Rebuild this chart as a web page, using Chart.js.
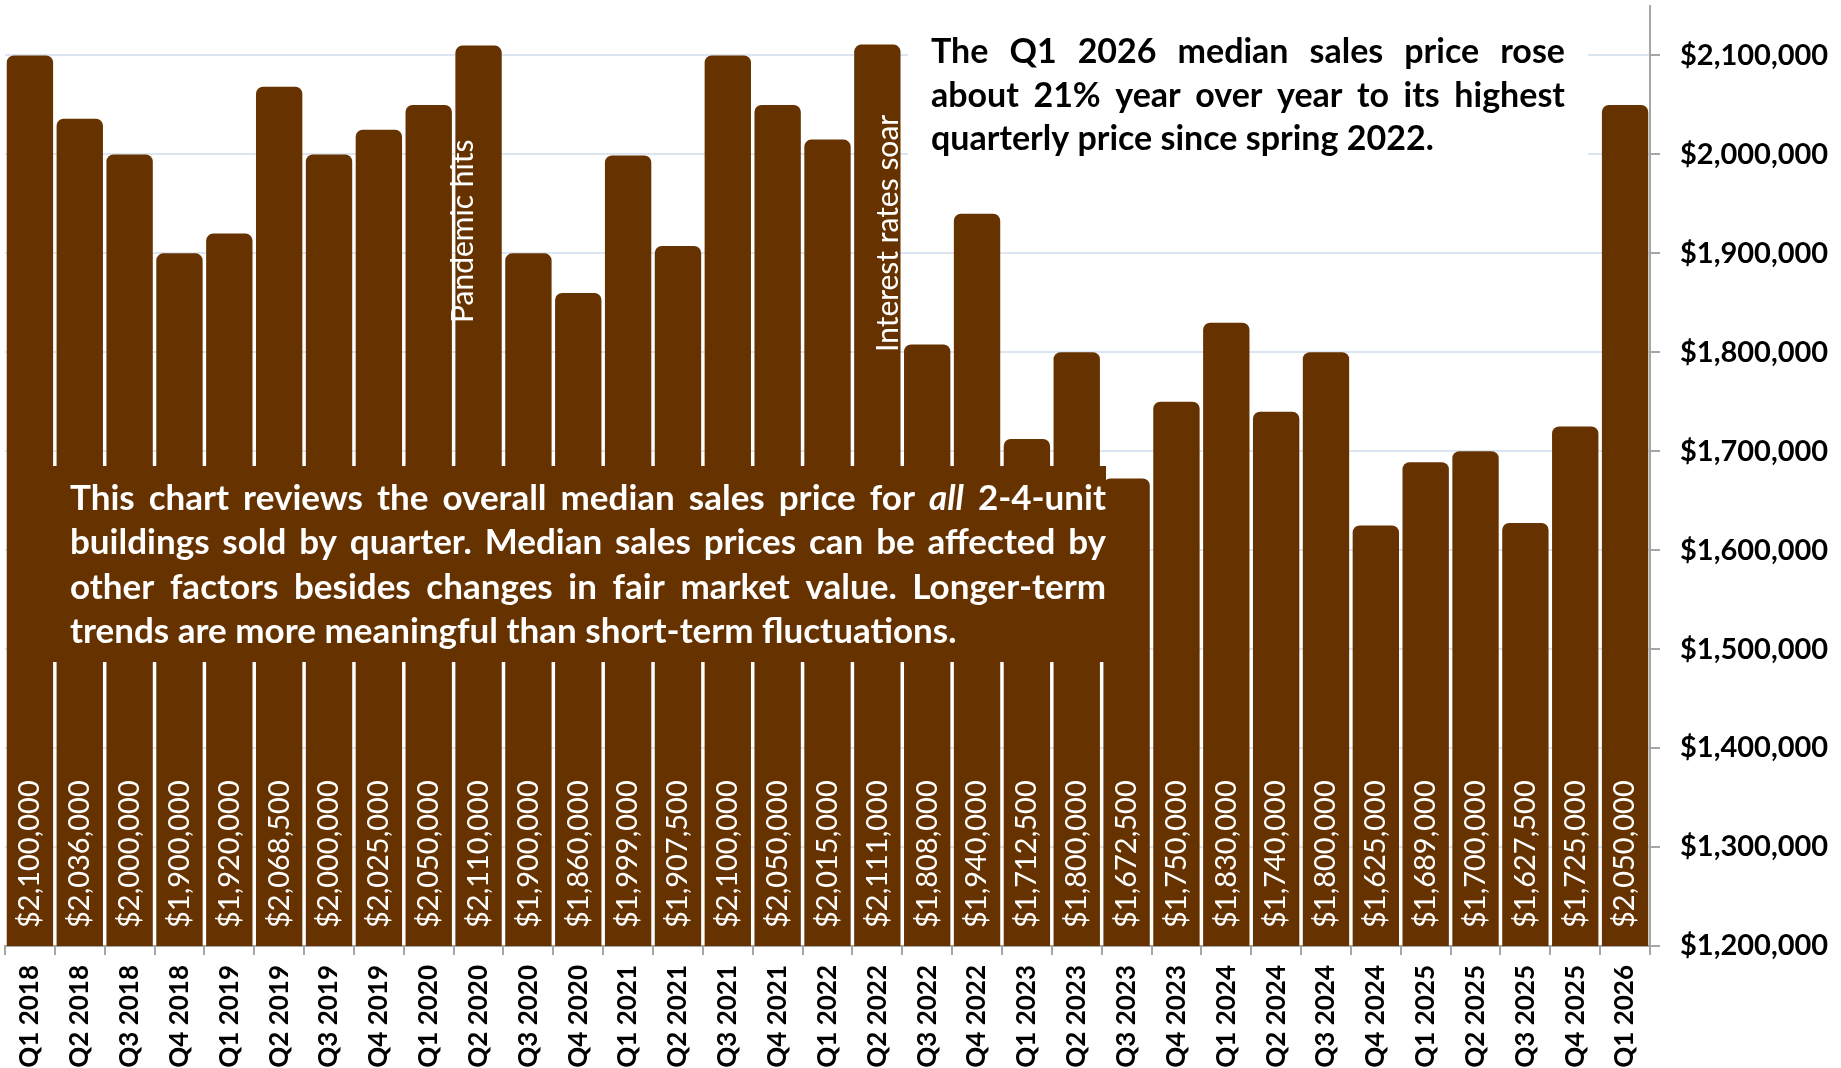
<!DOCTYPE html>
<html><head><meta charset="utf-8">
<script src="https://cdn.jsdelivr.net/npm/chart.js@4.4.1/dist/chart.umd.min.js"></script>
<style>html,body{margin:0;padding:0;background:#fff}canvas{display:block}</style>
</head><body>
<canvas id="c" width="1841" height="1068"></canvas>
<script>
const quarters = ['Q1 2018','Q2 2018','Q3 2018','Q4 2018','Q1 2019','Q2 2019','Q3 2019','Q4 2019','Q1 2020','Q2 2020','Q3 2020','Q4 2020','Q1 2021','Q2 2021','Q3 2021','Q4 2021','Q1 2022','Q2 2022','Q3 2022','Q4 2022','Q1 2023','Q2 2023','Q3 2023','Q4 2023','Q1 2024','Q2 2024','Q3 2024','Q4 2024','Q1 2025','Q2 2025','Q3 2025','Q4 2025','Q1 2026'];
const medianPrices = [2100000,2036000,2000000,1900000,1920000,2068500,2000000,2025000,2050000,2110000,1900000,1860000,1999000,1907500,2100000,2050000,2015000,2111000,1808000,1940000,1712500,1800000,1672500,1750000,1830000,1740000,1800000,1625000,1689000,1700000,1627500,1725000,2050000];
const yTickValues = [1200000,1300000,1400000,1500000,1600000,1700000,1800000,1900000,2000000,2100000];
const eventQuarters = ['Q2 2020','Q2 2022'];
const eventTexts = ['Pandemic hits','Interest rates soar'];
const noteTopLines = ['The Q1 2026 median sales price rose','about 21% year over year to its highest','quarterly price since spring 2022.'];
const noteBottomLines = ['This chart reviews the overall median sales price for _all_ 2-4-unit','buildings sold by quarter. Median sales prices can be affected by','other factors besides changes in fair market value. Longer-term','trends are more meaningful than short-term fluctuations.'];

const BROWN = '#663300';
const fmt = v => '$' + Number(v).toLocaleString('en-US');

function drawJustified(ctx, lines, x, w, y0, lh, size, color) {
  ctx.fillStyle = color;
  ctx.textBaseline = 'alphabetic';
  ctx.textAlign = 'left';
  lines.forEach((line, li) => {
    const words = line.split(' ');
    const fonts = words.map(wd => wd.startsWith('_') ? `italic bold ${size}px Lato` : `bold ${size}px Lato`);
    const texts = words.map(wd => wd.replace(/_/g, ''));
    const widths = texts.map((t, i) => { ctx.font = fonts[i]; return ctx.measureText(t).width; });
    const sum = widths.reduce((a, b) => a + b, 0);
    ctx.font = `bold ${size}px Lato`;
    const sp = ctx.measureText(' ').width;
    const last = li === lines.length - 1;
    let gap = last ? sp : (w - sum) / (words.length - 1);
    let sx = 1;
    if (sum + sp * (words.length - 1) > w) { sx = w / (sum + sp * (words.length - 1)); gap = sp; }
    ctx.save();
    ctx.translate(x, y0 + li * lh);
    ctx.scale(sx, 1);
    let cx = 0;
    texts.forEach((t, i) => { ctx.font = fonts[i]; ctx.fillText(t, cx, 0); cx += widths[i] + gap; });
    ctx.restore();
  });
}

const overlayPlugin = {
  id: 'overlay',
  afterDraw(chart) {
    const ctx = chart.ctx;
    const xs = chart.scales.x;
    const bottom = chart.chartArea.bottom;
    // value labels inside bars
    ctx.save();
    ctx.fillStyle = '#ffffff';
    ctx.font = '29px Lato';
    ctx.textAlign = 'left';
    ctx.textBaseline = 'middle';
    quarters.forEach((q, i) => {
      const cx = xs.getPixelForValue(i);
      ctx.save();
      ctx.translate(cx, bottom - 18);
      ctx.rotate(-Math.PI / 2);
      ctx.fillText(fmt(medianPrices[i]), 0, 0);
      ctx.restore();
    });
    ctx.restore();

    // event labels
    const evOffsets = [[-6, 323], [21, 352]];
    ctx.save();
    ctx.fillStyle = '#ffffff';
    ctx.font = '30px Lato';
    ctx.textAlign = 'left';
    ctx.textBaseline = 'alphabetic';
    eventQuarters.forEach((q, k) => {
      const cx = xs.getPixelForValue(quarters.indexOf(q));
      ctx.save();
      ctx.translate(cx + evOffsets[k][0], evOffsets[k][1]);
      ctx.rotate(-Math.PI / 2);
      ctx.fillText(eventTexts[k], 0, 0);
      ctx.restore();
    });
    ctx.restore();

    // top-right note (white background)
    ctx.save();
    ctx.fillStyle = '#ffffff';
    ctx.fillRect(908, 12, 680, 168);
    drawJustified(ctx, noteTopLines, 931, 634, 63, 43.5, 34, '#000000');
    ctx.restore();

    // bottom brown note
    ctx.save();
    ctx.fillStyle = BROWN;
    ctx.fillRect(7, 466, 1099, 196);
    drawJustified(ctx, noteBottomLines, 70, 1036, 510, 44.3, 35, '#ffffff');
    ctx.restore();
  }
};

new Chart(document.getElementById('c'), {
  type: 'bar',
  data: {
    labels: quarters,
    datasets: [{
      data: medianPrices,
      backgroundColor: BROWN,
      borderWidth: 0,
      borderRadius: { topLeft: 7, topRight: 7, bottomLeft: 0, bottomRight: 0 },
      borderSkipped: 'bottom',
      barPercentage: 0.93,
      categoryPercentage: 1.0
    }]
  },
  options: {
    responsive: false,
    animation: false,
    layout: { padding: { left: 5, top: 6, right: 0, bottom: 0 } },
    plugins: { legend: { display: false }, tooltip: { enabled: false } },
    scales: {
      x: {
        offset: true,
        grid: { display: true, drawOnChartArea: false, drawTicks: true, tickLength: 9, tickColor: '#a6a6a6', lineWidth: 2, offset: true },
        border: { display: true, color: '#a6a6a6', width: 2 },
        ticks: { minRotation: 90, maxRotation: 90, autoSkip: false, padding: 10, color: '#000', font: { family: 'Lato', weight: 'bold', size: 26 } },
        afterFit(scale) { scale.height = 122; scale.paddingLeft = 0; scale.paddingRight = 0; scale.paddingTop = 0; scale.paddingBottom = 0; }
      },
      y: {
        position: 'right',
        min: 1200000,
        max: 2150000,
        grid: { color: '#dce6f2', lineWidth: 2, tickColor: '#a6a6a6', tickLength: 10 },
        border: { display: true, color: '#a6a6a6', width: 2 },
        ticks: { padding: 20, color: '#000', font: { family: 'Lato', weight: 'bold', size: 29 }, callback: v => fmt(v) },
        afterBuildTicks(scale) { scale.ticks = yTickValues.map(v => ({ value: v })); },
        afterFit(scale) { scale.width = 191; scale.paddingTop = 0; scale.paddingBottom = 0; scale.paddingLeft = 0; scale.paddingRight = 0; }
      }
    }
  },
  plugins: [overlayPlugin]
});
</script>
</body></html>
